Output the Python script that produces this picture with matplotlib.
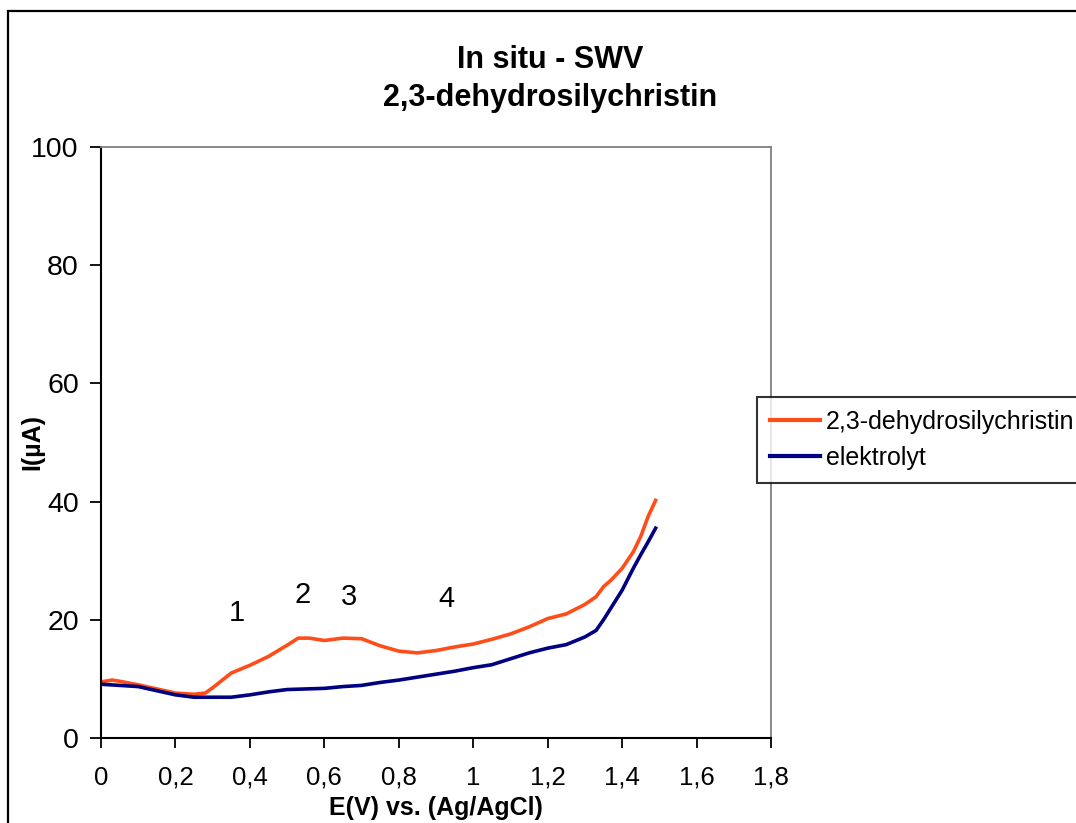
import matplotlib
matplotlib.use("Agg")
import matplotlib.pyplot as plt
from matplotlib.patches import Rectangle
from matplotlib.ticker import FuncFormatter

plt.rcParams["font.family"] = ["Liberation Sans", "DejaVu Sans"]

# potential E (V) vs Ag/AgCl and current I (uA)
e_sample = [0.00, 0.03, 0.05, 0.10, 0.15, 0.20, 0.25, 0.28, 0.30, 0.35, 0.40, 0.45,
            0.50, 0.53, 0.56, 0.60, 0.65, 0.70, 0.75, 0.80, 0.85, 0.90, 0.95, 1.00,
            1.05, 1.10, 1.15, 1.20, 1.25, 1.30, 1.33, 1.35, 1.37, 1.40, 1.43, 1.45,
            1.47, 1.49]
i_sample = [9.5, 9.8, 9.6, 9.0, 8.3, 7.6, 7.4, 7.6, 8.5, 11.0, 12.3, 13.8,
            15.7, 16.9, 16.9, 16.5, 16.9, 16.8, 15.6, 14.7, 14.4, 14.8, 15.4, 15.9,
            16.7, 17.6, 18.8, 20.2, 21.0, 22.6, 23.9, 25.6, 26.7, 28.7, 31.5, 34.1,
            37.5, 40.2]

e_blank = [0.00, 0.05, 0.10, 0.15, 0.20, 0.25, 0.30, 0.35, 0.40, 0.45, 0.50, 0.55,
           0.60, 0.65, 0.70, 0.75, 0.80, 0.85, 0.90, 0.95, 1.00, 1.05, 1.10, 1.15,
           1.20, 1.25, 1.30, 1.33, 1.35, 1.37, 1.40, 1.43, 1.45, 1.47, 1.49]
i_blank = [9.1, 8.9, 8.7, 8.0, 7.3, 6.9, 6.9, 6.9, 7.3, 7.8, 8.2, 8.3,
           8.4, 8.7, 8.9, 9.4, 9.8, 10.3, 10.8, 11.3, 11.9, 12.4, 13.4, 14.4,
           15.2, 15.8, 17.1, 18.2, 20.0, 22.0, 25.0, 28.7, 31.0, 33.2, 35.5]

peak_labels = ["1", "2", "3", "4"]
peak_e = [0.365, 0.543, 0.666, 0.929]
peak_i = [21.2, 24.2, 23.9, 23.5]

fig = plt.figure(figsize=(10.76, 8.23), dpi=100)
ax = fig.add_axes([101 / 1076, 1 - 738 / 823, 670 / 1076, 591 / 823])

# outer chart frame (runs off the right and bottom edges)
fig.patches.append(Rectangle((8 / 1076, -0.1), 1.2, 1 - 11 / 823 + 0.1,
                             transform=fig.transFigure, fill=False,
                             edgecolor="black", linewidth=1.6))

ax.plot(e_sample, i_sample, color="#FF4D1A", linewidth=2.6,
        label="2,3-dehydrosilychristin")
ax.plot(e_blank, i_blank, color="#000080", linewidth=2.6, label="elektrolyt")

for lab, x, y in zip(peak_labels, peak_e, peak_i):
    ax.text(x, y, lab, fontsize=21, ha="center", va="center")

ax.set_xlim(0, 1.8)
ax.set_ylim(0, 100)
ax.set_xticks([0, 0.2, 0.4, 0.6, 0.8, 1.0, 1.2, 1.4, 1.6, 1.8])
ax.set_yticks([0, 20, 40, 60, 80, 100])
ax.xaxis.set_major_formatter(FuncFormatter(lambda v, p: f"{v:g}".replace(".", ",")))
ax.tick_params(axis="x", labelsize=18.5, length=7, width=1.3, pad=13)
ax.tick_params(axis="y", labelsize=20.5, length=8, width=1.3, pad=8)

for side in ["top", "right"]:
    ax.spines[side].set_color("#808080")
    ax.spines[side].set_linewidth(1.3)
for side in ["left", "bottom"]:
    ax.spines[side].set_linewidth(1.5)

ax.set_xlabel("E(V) vs. (Ag/AgCl)", fontsize=18, fontweight="bold")
ax.set_ylabel("I(µA)", fontsize=18, fontweight="bold")
ax.xaxis.set_label_coords(0.5, -(808 - 738) / 591)
ax.yaxis.set_label_coords((32 - 101) / 670, 0.5)
ax.xaxis.label.set_va("center")
ax.yaxis.label.set_va("center")

fig.text(550 / 1076, 1 - 79 / 823, "In situ - SWV\n2,3-dehydrosilychristin",
         ha="center", va="center", fontsize=22, fontweight="bold", linespacing=1.35)

leg = ax.legend(loc="upper left", bbox_to_anchor=(757 / 1076, 1 - 397 / 823),
                bbox_transform=fig.transFigure, borderaxespad=0, fontsize=18,
                frameon=True, fancybox=False, handlelength=2.0, handletextpad=0.25,
                labelspacing=0.5, borderpad=0.5)
leg.get_frame().set_edgecolor("black")
leg.get_frame().set_linewidth(1.5)
for line in leg.get_lines():
    line.set_linewidth(3)

fig.savefig("out.png", dpi=100)
